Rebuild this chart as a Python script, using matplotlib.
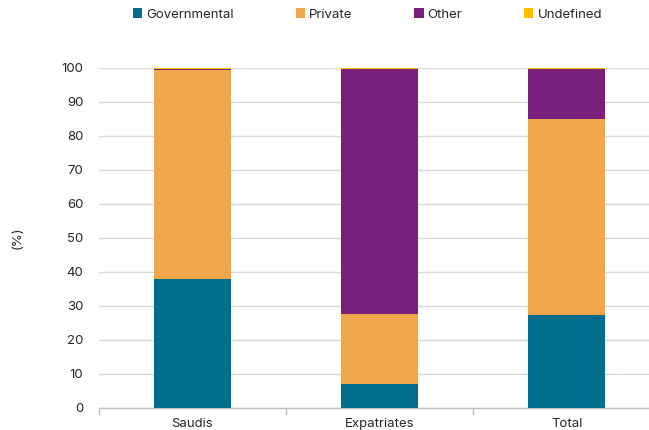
import matplotlib.pyplot as plt
import numpy as np

plt.rcParams['font.family'] = ['Inter', 'DejaVu Sans']

categories = ["Saudis", "Expatriates", "Total"]
governmental = [37.8, 7.0, 27.3]
private = [61.4, 20.7, 57.6]
other = [0.5, 71.9, 14.7]
undefined = [0.3, 0.4, 0.4]

series = [("Governmental", governmental, "#006E8A"),
          ("Private", private, "#F0A64B"),
          ("Other", other, "#78207C"),
          ("Undefined", undefined, "#FFC000")]

fig = plt.figure(figsize=(6.49, 4.30), dpi=100)
ax = fig.add_axes([98.5 / 649, 22 / 430, 562 / 649, 340.5 / 430])

x = np.arange(len(categories))
bottom = np.zeros(len(categories))
for name, vals, color in series:
    ax.bar(x, vals, width=0.41, bottom=bottom, color=color, label=name, zorder=3)
    bottom += np.array(vals)

ax.set_xlim(-0.5, 2.5)
ax.set_ylim(0, 100)
ax.set_yticks(range(0, 101, 10))
ax.grid(axis="y", color="#D9D9D9", linewidth=1, zorder=0)
ax.set_xticks(x)
ax.set_xticklabels(categories)
ax.set_xticks([-0.5, 0.5, 1.5], minor=True)
ax.tick_params(axis="x", which="major", length=0, pad=7, labelsize=9.5, labelcolor="#262626")
ax.tick_params(axis="x", which="minor", length=5, color="#BFBFBF", width=1)
ax.tick_params(axis="y", length=0, pad=11, labelsize=9.5, labelcolor="#262626")

for side in ["top", "right", "left"]:
    ax.spines[side].set_visible(False)
ax.spines["bottom"].set_color("#BFBFBF")
ax.spines["bottom"].set_linewidth(1)

fig.text(18 / 649, 1 - 238 / 430, "(%)", rotation=90, ha="center", va="center",
         fontsize=9.5, color="#262626")

fig.legend(loc="upper left", bbox_to_anchor=(121 / 649, 1.008), ncol=4, frameon=False,
           fontsize=9.5, handlelength=0.7, handleheight=0.7, handletextpad=0.3,
           columnspacing=4.7, labelcolor="#262626")

fig.savefig("out.png", dpi=100)
